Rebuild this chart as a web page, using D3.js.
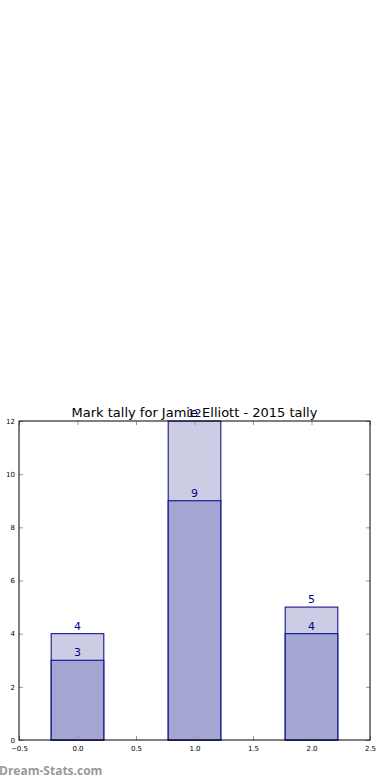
<!DOCTYPE html>
<html>
<head>
<meta charset="utf-8">
<script src="https://cdn.jsdelivr.net/npm/d3@7"></script>
<style>
  body { margin: 0; background: #fff; }
  svg { display: block; font-family: "DejaVu Sans", sans-serif; }
</style>
</head>
<body>
<svg id="chart"></svg>
<script>
const positions = [0, 1, 2];
const totalMarks = [4, 12, 5];
const scoringMarks = [3, 9, 4];
const xTicks = [-0.5, 0.0, 0.5, 1.0, 1.5, 2.0, 2.5];
const yTicks = [0, 2, 4, 6, 8, 10, 12];
const barWidth = 0.45;

const width = 390, height = 780;
const margin = { top: 421, right: 20, bottom: 40, left: 19 };

const svg = d3.select("#chart")
    .attr("width", width)
    .attr("height", height);

const x = d3.scaleLinear()
    .domain([-0.5, 2.5])
    .range([margin.left, width - margin.right]);

const y = d3.scaleLinear()
    .domain([0, 12])
    .range([height - margin.bottom, margin.top]);

// light bars (total)
svg.selectAll(".total")
  .data(positions)
  .join("rect")
    .attr("class", "total")
    .attr("x", (d) => x(d - barWidth / 2))
    .attr("y", (d, i) => y(totalMarks[i]))
    .attr("width", x(barWidth) - x(0))
    .attr("height", (d, i) => y(0) - y(totalMarks[i]))
    .attr("fill", "#cccce5")
    .attr("stroke", "#000080")
    .attr("stroke-width", 1);

// dark bars
svg.selectAll(".scoring")
  .data(positions)
  .join("rect")
    .attr("class", "scoring")
    .attr("x", (d) => x(d - barWidth / 2))
    .attr("y", (d, i) => y(scoringMarks[i]))
    .attr("width", x(barWidth) - x(0))
    .attr("height", (d, i) => y(0) - y(scoringMarks[i]))
    .attr("fill", "#a3a5d2")
    .attr("stroke", "#000080")
    .attr("stroke-width", 1);

// axes frame with inward ticks on all sides
const tickLen = 4;
const gx = svg.append("g")
    .attr("transform", `translate(0,${y(0)})`)
    .call(d3.axisBottom(x).tickValues(xTicks).tickFormat(d3.format(".1f")).tickSizeInner(-tickLen).tickSizeOuter(0).tickPadding(6));
const gxTop = svg.append("g")
    .attr("transform", `translate(0,${y(12)})`)
    .call(d3.axisTop(x).tickValues(xTicks).tickFormat("").tickSizeInner(-tickLen).tickSizeOuter(0));
const gy = svg.append("g")
    .attr("transform", `translate(${x(-0.5)},0)`)
    .call(d3.axisLeft(y).tickValues(yTicks).tickSizeInner(-tickLen).tickSizeOuter(0).tickPadding(4));
const gyRight = svg.append("g")
    .attr("transform", `translate(${x(2.5)},0)`)
    .call(d3.axisRight(y).tickValues(yTicks).tickFormat("").tickSizeInner(-tickLen).tickSizeOuter(0));

[gx, gxTop, gy, gyRight].forEach((g) => {
    g.select(".domain").remove();
    g.selectAll(".tick line").attr("stroke", "#999");
    g.selectAll(".tick text").attr("font-size", 7).attr("fill", "#000")
        .attr("font-family", "DejaVu Sans, sans-serif");
});

svg.append("rect")
    .attr("x", x(-0.5))
    .attr("y", y(12))
    .attr("width", x(2.5) - x(-0.5))
    .attr("height", y(0) - y(12))
    .attr("fill", "none")
    .attr("stroke", "#000")
    .attr("stroke-width", 1);

// value labels
svg.selectAll(".total-label")
  .data(positions)
  .join("text")
    .attr("class", "total-label")
    .attr("x", (d) => x(d))
    .attr("y", (d, i) => y(totalMarks[i]) - 4)
    .attr("text-anchor", "middle")
    .attr("font-size", 11)
    .attr("fill", "#00008b")
    .text((d, i) => totalMarks[i]);

svg.selectAll(".scoring-label")
  .data(positions)
  .join("text")
    .attr("class", "scoring-label")
    .attr("x", (d) => x(d))
    .attr("y", (d, i) => y(scoringMarks[i]) - 4)
    .attr("text-anchor", "middle")
    .attr("font-size", 11)
    .attr("fill", "#00008b")
    .text((d, i) => scoringMarks[i]);

// title
svg.append("text")
    .attr("x", (x(-0.5) + x(2.5)) / 2)
    .attr("y", y(12) - 4)
    .attr("text-anchor", "middle")
    .attr("font-size", 13)
    .attr("fill", "#000")
    .text("Mark tally for Jamie Elliott - 2015 tally");

// watermark
svg.append("text")
    .attr("x", -1)
    .attr("y", 775)
    .attr("font-size", 12)
    .attr("font-weight", "bold")
    .attr("font-family", "Open Sans, sans-serif")
    .attr("fill", "#999")
    .text("Dream-Stats.com");
</script>
</body>
</html>
